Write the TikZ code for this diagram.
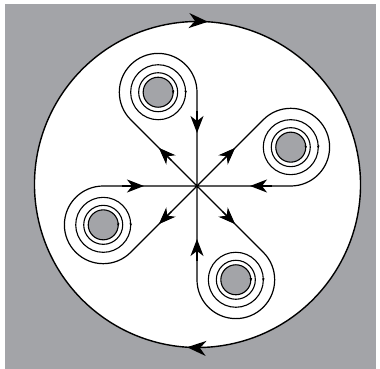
\documentclass[tikz,border=0pt]{standalone}
\usetikzlibrary{arrows.meta,decorations.markings}
\definecolor{bg}{RGB}{163,164,168}
\begin{document}
\begin{tikzpicture}[x=1pt,y=1pt,
  flow/.style={line width=1.2pt, line join=round},
  bigtip/.style={-{Stealth[length=17pt,width=13pt,inset=5pt]}},
  smalltip/.style={-{Stealth[length=3pt,width=2.6pt]}, line width=0.6pt},
  ring/.style={line width=1.1pt}]
\useasboundingbox (-197,-183) rectangle (183,186);
\fill[bg] (-192,-183) rectangle (179,182);
\fill[white] (0.5,1.5) circle[radius=163];
\draw[line width=1.4pt, postaction={decorate},
  decoration={markings,
    mark=at position 0.038 with {\arrow{Stealth[length=19pt,width=15pt,inset=6pt]}},
    mark=at position 0.538 with {\arrow{Stealth[length=19pt,width=15pt,inset=6pt]}}}]
  [shift={(0.5,1.5)}] (100:163) arc[start angle=100, end angle=-260, radius=163];
\coordinate (O) at (0,0);
\foreach \r/\n in {0/t,-90/r,-180/b,-270/l}{
  \begin{scope}[rotate=\r]
    \coordinate (C\n) at (112.5:101.5);
    \coordinate (I\n) at (90:93.77);
    \coordinate (E\n) at (135:93.77);
    \coordinate (Ia\n) at (90:75);
    \coordinate (It\n) at (90:53);
    \coordinate (Ea\n) at (135:36);
    \coordinate (Et\n) at (135:54);
    \draw[flow] (O) -- (E\n) arc[start angle=225, end angle=0, radius=38.84] -- (O);
    \draw[flow, bigtip] (Ia\n) -- (It\n);
    \draw[flow, bigtip] (Ea\n) -- (Et\n);
  \end{scope}
}
\foreach \n in {t,r,b,l}{
  \begin{scope}[shift={(C\n)}]
    \filldraw[fill=bg, draw=black, ring] (0,0) circle[radius=15];
    \draw[ring] (0,0) circle[radius=19.5];
    \draw[ring] (0,0) circle[radius=27.5];
    \draw[smalltip] (15,2) -- (15,-1.5);
    \draw[smalltip] (27.5,2) -- (27.5,-1.5);
  \end{scope}
}
\end{tikzpicture}
\end{document}
